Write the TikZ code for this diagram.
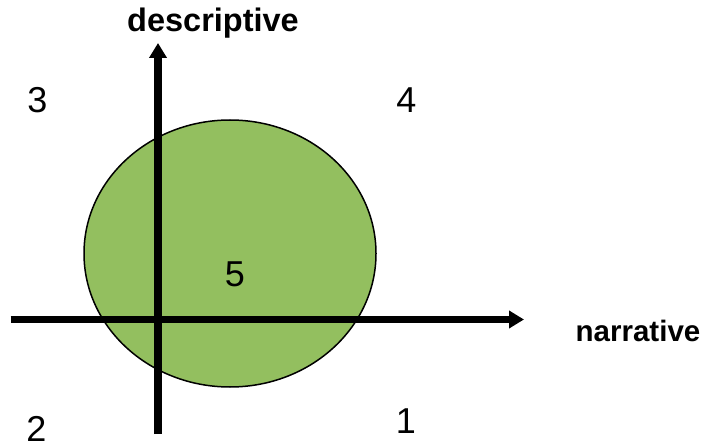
\documentclass[tikz,border=0pt]{standalone}
\usepackage{fontspec}
\setmainfont{Liberation Sans}
\usetikzlibrary{arrows.meta,shapes.geometric}
\definecolor{leafgreen}{HTML}{93BF5F}
\tikzset{
  axis/.style={line width=7.5pt, -{Triangle[length=15pt,width=17pt]}},
  axislabel/.style={font=\fontsize{29.5}{30}\selectfont\bfseries, inner sep=0pt, anchor=base},
  region/.style={font=\fontsize{36}{36}\selectfont, inner sep=0pt}
}
\begin{document}
\begin{tikzpicture}[x=1pt,y=-1pt]
\useasboundingbox (0,0) rectangle (706,446);
\node[draw=black, line width=1.5pt, fill=leafgreen, ellipse, minimum width=292pt, minimum height=267pt, inner sep=0pt] (blob) at (230,253.5) {};
\coordinate (hstart) at (10.7,319.5);
\coordinate (hend) at (524,319.5);
\coordinate (vstart) at (158,434);
\coordinate (vend) at (158,43);
\draw[axis] (hstart) -- (hend);
\draw[axis] (vstart) -- (vend);
\node[axislabel, font=\fontsize{32.5}{33}\selectfont\bfseries] (desc) at (213,31.7) {descriptive};
\node[axislabel] (narr) at (638,341.7) {narrative};
\node[region] (r3) at (37.5,100.5) {3};
\node[region] (r4) at (406.5,100) {4};
\node[region] (r2) at (36.5,428.5) {2};
\node[region] (r1) at (406,421) {1};
\node[region] (r5) at (235,274.5) {5};
\end{tikzpicture}
\end{document}
